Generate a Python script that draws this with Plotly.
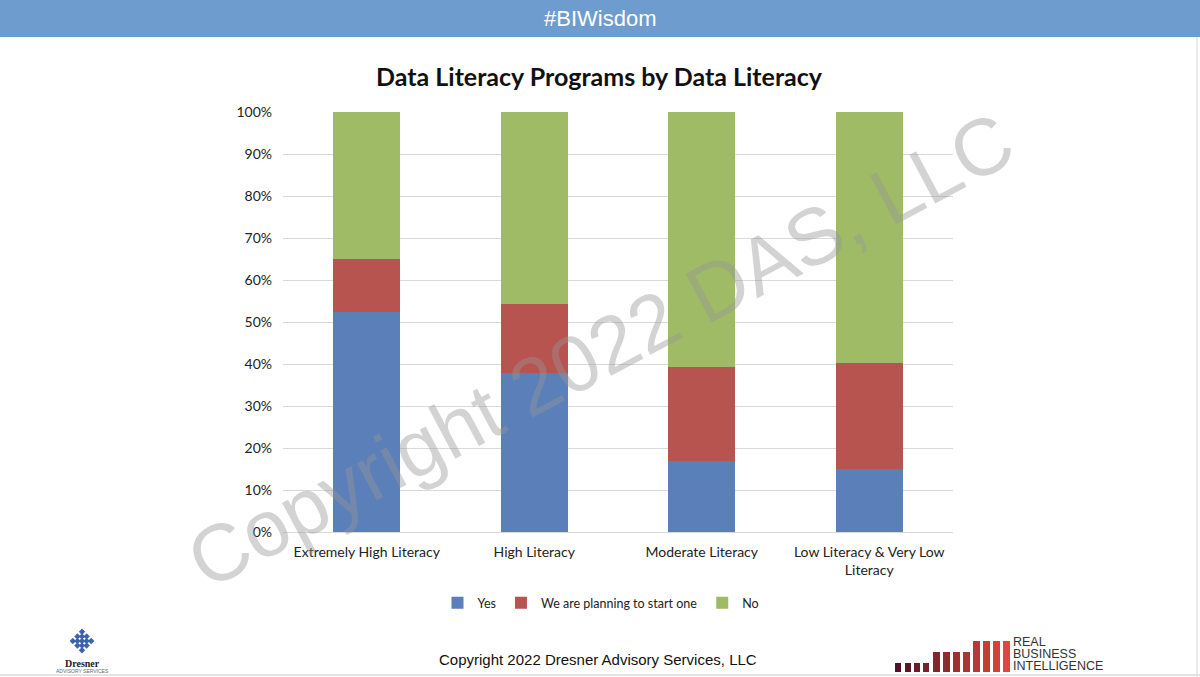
import plotly.graph_objects as go

categories = ["Extremely High Literacy", "High Literacy", "Moderate Literacy",
              "Low Literacy & Very Low<br>Literacy"]
yes_vals = [52.4, 37.9, 16.8, 14.9]
planning_vals = [12.5, 16.3, 22.6, 25.4]
no_vals = [35.1, 45.8, 60.6, 59.7]
series_names = ["Yes", "We are planning to start one", "No"]
series_colors = ["#5b7fb8", "#b85450", "#a0bb66"]
y_ticks = [0, 10, 20, 30, 40, 50, 60, 70, 80, 90, 100]
y_tick_text = [f"{v}%" for v in y_ticks]

W, H = 1200, 677
L, R, T, B = 283, 953, 112, 532  # plot area in pixels


def px(x):
    return (x - L) / (R - L)


def py(y):
    return (B - y) / (B - T)


fig = go.Figure()
for name, vals, col in zip(series_names, [yes_vals, planning_vals, no_vals], series_colors):
    fig.add_trace(go.Bar(x=categories, y=vals, name=name, marker=dict(color=col, line=dict(width=0))))

shapes = []
# header band
shapes.append(dict(type="rect", xref="paper", yref="paper", x0=px(0), x1=px(W), y0=py(37), y1=py(0),
                   fillcolor="#6f9cce", line=dict(width=0), layer="below"))
# bottom and right frame lines
shapes.append(dict(type="line", xref="paper", yref="paper", x0=px(0), x1=px(W), y0=py(675), y1=py(675),
                   line=dict(color="#c8c8c8", width=1)))
shapes.append(dict(type="line", xref="paper", yref="paper", x0=px(1197), x1=px(1197), y0=py(37), y1=py(677),
                   line=dict(color="#d8d8d8", width=1)))

# Real Business Intelligence logo bars
bar_specs = []
small = [895, 905, 914, 923]
mid = [933, 943, 953, 963]
tall = [973, 983, 993, 1003]
for xs in small:
    bar_specs.append((xs, 6, 663))
for xs in mid:
    bar_specs.append((xs, 7, 652))
for xs in tall:
    bar_specs.append((xs, 7, 641))
n = len(bar_specs)
c0 = (80, 20, 40)
c1 = (222, 72, 58)
for i, (x0, w, top) in enumerate(bar_specs):
    t = i / (n - 1)
    c = tuple(int(c0[k] + (c1[k] - c0[k]) * t) for k in range(3))
    shapes.append(dict(type="rect", xref="paper", yref="paper", x0=px(x0), x1=px(x0 + w),
                       y0=py(672), y1=py(top), fillcolor="rgb(%d,%d,%d)" % c, line=dict(width=0)))

# Dresner knot logo (diamonds arranged in a knot-like pattern)
cx, cy = 82, 641
d = 4.6
cells = [(0, -2), (-1, -1), (1, -1), (-2, 0), (0, 0), (2, 0), (-1, 1), (1, 1), (0, 2),
         (0, -1), (-1, 0), (1, 0), (0, 1)]
for i, j in cells:
    xc = cx + i * d
    yc = cy + j * d
    s = 3.2
    path = "M %f,%f L %f,%f L %f,%f L %f,%f Z" % (
        px(xc), py(yc - s), px(xc + s), py(yc), px(xc), py(yc + s), px(xc - s), py(yc))
    shapes.append(dict(type="path", xref="paper", yref="paper", path=path,
                       fillcolor="#3d63ad", line=dict(width=0)))

annotations = [
    dict(text="#BIWisdom", x=px(600), y=py(19), xref="paper", yref="paper", showarrow=False,
         font=dict(family="Liberation Sans, Arial", size=22, color="white"), xanchor="center", yanchor="middle"),
    dict(text="Copyright 2022 DAS, LLC", x=px(600), y=py(350), xref="paper", yref="paper", showarrow=False,
         textangle=-28, font=dict(family="Liberation Sans, Arial", size=80, color="rgba(150,150,150,0.42)"),
         xanchor="center", yanchor="middle"),
    dict(text="Copyright 2022 Dresner Advisory Services, LLC", x=px(598), y=py(659), xref="paper", yref="paper",
         showarrow=False, font=dict(family="Liberation Sans, Arial", size=15, color="#111111"),
         xanchor="center", yanchor="middle"),
    dict(text="<b>Dresner</b>", x=px(82), y=py(663), xref="paper", yref="paper", showarrow=False,
         font=dict(family="Liberation Serif, DejaVu Serif", size=10, color="#222222"), xanchor="center", yanchor="middle"),
    dict(text="ADVISORY SERVICES", x=px(82), y=py(671), xref="paper", yref="paper", showarrow=False,
         font=dict(family="Liberation Sans, Arial", size=5, color="#666666"), xanchor="center", yanchor="middle"),
]
for word, yy in [("REAL", 641.5), ("BUSINESS", 653.5), ("INTELLIGENCE", 665.5)]:
    annotations.append(dict(text=word, x=px(1012), y=py(yy), xref="paper", yref="paper", showarrow=False,
                            borderpad=0,
                            font=dict(family="Liberation Sans, Arial", size=12.5, color="#333333"),
                            xanchor="left", yanchor="middle"))

fig.update_layout(
    width=W, height=H,
    margin=dict(l=L, r=W - R, t=T, b=H - B, pad=0),
    barmode="stack", bargap=0.6,
    paper_bgcolor="white", plot_bgcolor="white",
    title=dict(text="<b>Data Literacy Programs by Data Literacy</b>", x=599 / W, y=1 - 77 / H,
               xanchor="center", yanchor="middle",
               font=dict(family="Lato, Open Sans", size=25, color="#111111")),
    font=dict(family="Lato, Open Sans", size=14, color="#222222"),
    legend=dict(orientation="h", x=px(601), y=py(603), xanchor="center", yanchor="middle",
                font=dict(family="Lato, Open Sans", size=12.5, color="#222222"), traceorder="normal",
                itemwidth=30),
    shapes=shapes, annotations=annotations,
    showlegend=True,
)
fig.update_yaxes(range=[0, 100], tickmode="array", tickvals=y_ticks, ticktext=y_tick_text,
                 showgrid=True, gridcolor="#d9d9d9",
                 gridwidth=1, zeroline=False, showline=False, ticks="", ticklabelstandoff=10,
                 tickfont=dict(size=14))
fig.update_xaxes(showline=True, linecolor="#d9d9d9", linewidth=1, ticks="", ticklabelstandoff=7,
                 tickfont=dict(size=14))

fig.write_html("out.html", config={"displayModeBar": False},
               post_script="document.body.style.margin='0px';document.body.style.overflow='hidden';")
